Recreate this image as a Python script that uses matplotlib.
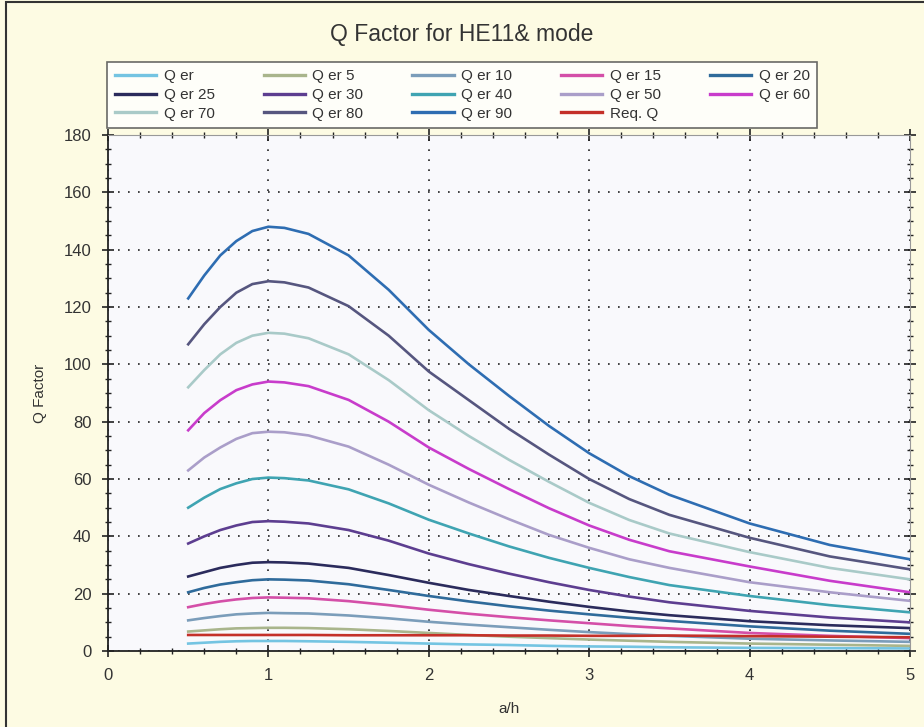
import numpy as np
import matplotlib
matplotlib.use('Agg')
import matplotlib.pyplot as plt
from matplotlib.patches import Rectangle
from matplotlib.ticker import MultipleLocator

plt.rcParams['font.family'] = ['Liberation Sans', 'DejaVu Sans']

# a/h sample points
ah = [0.5, 0.6, 0.7, 0.8, 0.9, 1.0, 1.1, 1.25, 1.5, 1.75,
      2.0, 2.25, 2.5, 2.75, 3.0, 3.25, 3.5, 4.0, 4.5, 5.0]

# Q factor values, one list per dielectric constant
q_er = [2.6, 2.9, 3.2, 3.4, 3.5, 3.5, 3.5, 3.4, 3.2, 2.9,
        2.6, 2.3, 2.1, 1.8, 1.6, 1.5, 1.3, 1.1, 1.0, 0.9]
q_er5 = [6.8, 7.2, 7.6, 7.9, 8.0, 8.1, 8.1, 8.0, 7.6, 7.0,
         6.3, 5.6, 5.0, 4.5, 4.0, 3.6, 3.2, 2.6, 2.2, 1.8]
q_er10 = [10.7, 11.5, 12.2, 12.8, 13.1, 13.3, 13.2, 13.1, 12.4, 11.4,
          10.2, 9.2, 8.3, 7.4, 6.6, 5.9, 5.3, 4.3, 3.7, 3.2]
q_er15 = [15.3, 16.4, 17.3, 18.0, 18.5, 18.7, 18.6, 18.4, 17.4, 16.0,
          14.4, 13.0, 11.8, 10.7, 9.7, 8.7, 7.9, 6.3, 5.3, 4.5]
q_er20 = [20.5, 22.0, 23.2, 24.0, 24.7, 25.0, 24.9, 24.6, 23.3, 21.3,
          19.2, 17.3, 15.6, 14.1, 12.8, 11.6, 10.5, 8.6, 7.1, 6.0]
q_er25 = [26.0, 27.5, 29.0, 30.0, 30.8, 31.0, 30.9, 30.5, 29.0, 26.5,
          23.8, 21.3, 19.2, 17.2, 15.4, 13.8, 12.5, 10.4, 9.0, 8.0]
q_er30 = [37.5, 40.0, 42.2, 43.8, 45.0, 45.3, 45.1, 44.5, 42.2, 38.5,
          34.0, 30.3, 27.0, 24.0, 21.3, 19.0, 17.0, 14.0, 11.7, 10.0]
q_er40 = [50.0, 53.5, 56.5, 58.5, 60.0, 60.5, 60.3, 59.5, 56.4, 51.5,
          45.8, 41.0, 36.5, 32.5, 29.0, 25.8, 23.0, 19.2, 16.0, 13.5]
q_er50 = [63.0, 67.5, 71.0, 74.0, 76.0, 76.5, 76.3, 75.2, 71.3, 65.0,
          58.0, 51.8, 46.0, 40.5, 36.0, 32.0, 29.0, 24.0, 20.5, 17.5]
q_er60 = [77.0, 83.0, 87.5, 91.0, 93.0, 94.0, 93.7, 92.4, 87.6, 80.0,
          71.0, 63.5, 56.5, 49.8, 43.8, 38.8, 34.8, 29.5, 24.5, 20.5]
q_er70 = [92.0, 98.0, 103.5, 107.5, 110.0, 111.0, 110.7, 109.1, 103.5, 94.5,
          84.0, 75.0, 66.7, 59.0, 51.7, 45.7, 41.0, 34.5, 29.0, 25.0]
q_er80 = [107.0, 114.0, 120.0, 125.0, 128.0, 129.0, 128.6, 126.8, 120.3, 110.0,
          97.5, 87.5, 77.5, 68.5, 60.0, 53.0, 47.5, 39.5, 33.0, 28.5]
q_er90 = [123.0, 131.0, 138.0, 143.0, 146.5, 148.0, 147.6, 145.5, 138.0, 126.0,
          112.0, 100.0, 89.0, 78.5, 69.0, 61.0, 54.5, 44.5, 37.0, 32.0]
req_q = [5.6, 5.6, 5.6, 5.6, 5.6, 5.6, 5.6, 5.6, 5.5, 5.5,
         5.5, 5.5, 5.4, 5.4, 5.3, 5.3, 5.4, 5.2, 5.0, 4.8]

labels = ['Q er', 'Q er 5', 'Q er 10', 'Q er 15', 'Q er 20',
          'Q er 25', 'Q er 30', 'Q er 40', 'Q er 50', 'Q er 60',
          'Q er 70', 'Q er 80', 'Q er 90', 'Req. Q']
series = [q_er, q_er5, q_er10, q_er15, q_er20, q_er25, q_er30, q_er40,
          q_er50, q_er60, q_er70, q_er80, q_er90, req_q]
colors = ['#74c4e2', '#a9b58c', '#7b9dba', '#d44fa8', '#2f6b9b',
          '#2b2b5c', '#5d3e90', '#3fa4b2', '#aa9ec9', '#c83ccb',
          '#a9cac8', '#56567f', '#2e6db2', '#c43029']

fig = plt.figure(figsize=(9.24, 7.27), dpi=100, facecolor='#fdfbe3')
ax = fig.add_axes([0.1169, 0.1045, 0.8679, 0.7098])
ax.set_facecolor('#f9f9fc')

lines = []
for vals, lab, col in zip(series, labels, colors):
    ln, = ax.plot(ah, vals, color=col, lw=1.9, label=lab)
    lines.append(ln)

ax.set_xlim(0, 5)
ax.set_ylim(0, 180)
ax.xaxis.set_major_locator(MultipleLocator(1))
ax.xaxis.set_minor_locator(MultipleLocator(0.2))
ax.yaxis.set_major_locator(MultipleLocator(20))
ax.yaxis.set_minor_locator(MultipleLocator(5))
ax.grid(True, which='major', color='#222222', linestyle=(0, (1, 5)), lw=1.2)
ax.tick_params(which='both', direction='inout', top=True, right=True,
               colors='#222222', labelcolor='#333333', labelsize=12)
ax.tick_params(which='major', length=8, width=1.2, pad=8)
ax.tick_params(which='minor', length=5, width=1.0)
for side in ['left', 'bottom']:
    ax.spines[side].set_color('#222222')
    ax.spines[side].set_linewidth(1.3)
for side in ['top', 'right']:
    ax.spines[side].set_color('#999999')

ax.set_xlabel('a/h', fontsize=11, color='#333333', labelpad=14)
ax.set_ylabel('Q Factor', fontsize=11, color='#333333', labelpad=12)

fig.text(0.5, 0.953, 'Q Factor for HE11& mode', ha='center', va='center',
         fontsize=16.5, color='#333333')

# legend is filled column by column, so reorder to read row by row like the original
order = [0, 5, 10, 1, 6, 11, 2, 7, 12, 3, 8, 13, 4, 9]
leg = fig.legend([lines[i] for i in order], [labels[i] for i in order],
                 loc='upper left', bbox_to_anchor=(0.116, 0.915), ncol=5,
                 fontsize=11, frameon=True, fancybox=False, handlelength=2.7,
                 handletextpad=0.5, columnspacing=3.2, labelspacing=0.3,
                 borderpad=0.5, borderaxespad=0)
leg.get_frame().set_edgecolor('#444444')
leg.get_frame().set_linewidth(1.2)
for txt in leg.get_texts():
    txt.set_color('#333333')
for ln in leg.get_lines():
    ln.set_linewidth(2.4)

# thin dark frame along the left and top edge of the picture
fig.patches.append(Rectangle((0.006, -0.05), 1.2, 1.047, transform=fig.transFigure,
                             fill=False, edgecolor='#333333', lw=1.5))

fig.savefig('out.png', dpi=100, facecolor=fig.get_facecolor())
